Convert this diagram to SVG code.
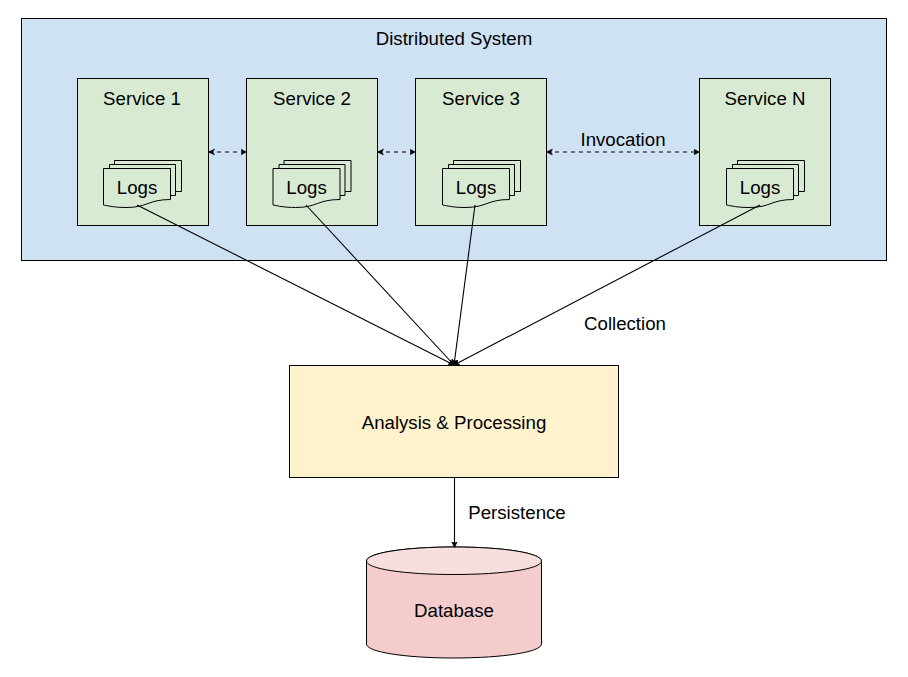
<svg xmlns="http://www.w3.org/2000/svg" width="908" height="677" viewBox="0 0 908 677">
<style>
text{font-family:"Liberation Sans",Arial,sans-serif;font-size:18.67px;fill:#000;text-anchor:middle}
.b{stroke:#000;stroke-width:1}
.svc{fill:#d9ead3}
.c{fill:none;stroke:#000;stroke-width:1.100}
.d{stroke-dasharray:4 4}
</style>
<defs>
<marker id="a" markerWidth="7" markerHeight="7" refX="5.500" refY="3" orient="auto-start-reverse" markerUnits="userSpaceOnUse"><path d="M0 0L6 3L0 6L1.500 3Z" fill="#000" stroke="#000" stroke-width=".5"/></marker>
<g id="logs">
<path class="b svc" d="M114.500 160.500H181.500V191.500H114.500Z"/>
<path class="b svc" d="M109.500 164.500H175.500V195.500H109.500Z"/>
<path class="b svc" d="M103.500 168.500H170.500V199.500C148 199.500 148 207.500 126 207.500C115 207.500 109 206 103.500 205Z"/>
<text x="137" y="194">Logs</text>
</g>
</defs>
<rect width="908" height="677" fill="#fff"/>
<g id="system"><rect class="b" x="21.500" y="18.500" width="865" height="242" fill="#cfe2f3"/><text x="454" y="45">Distributed System</text></g>
<g id="service1"><rect class="b svc" x="77.500" y="78.500" width="131" height="147"/><text x="142" y="105">Service 1</text><use href="#logs"/></g>
<g id="service2"><rect class="b svc" x="246.500" y="78.500" width="131" height="147"/><text x="312" y="105">Service 2</text><use href="#logs" x="169.500"/></g>
<g id="service3"><rect class="b svc" x="415.500" y="78.500" width="131" height="147"/><text x="481" y="105">Service 3</text><use href="#logs" x="339"/></g>
<g id="serviceN"><rect class="b svc" x="699.500" y="78.500" width="131" height="147"/><text x="765" y="105">Service N</text><use href="#logs" x="623"/></g>
<g id="analysis"><rect class="b" x="289.500" y="365.500" width="329" height="112" fill="#fff2cc"/><text x="454" y="429">Analysis &amp; Processing</text></g>
<g id="database"><path class="b" d="M366.500 561C366.500 553 405 547 454 547S541.500 553 541.500 561V644C541.500 652 503 658 454 658S366.500 652 366.500 644Z" fill="#f4cccc"/><path class="b" d="M366.500 561C366.500 569 405 574.500 454 574.500S541.500 569 541.500 561C541.500 553 503 547 454 547S366.500 553 366.500 561Z" fill="#f8dfdf"/><text x="454" y="617">Database</text></g>
<g id="connectors">
<path class="c d" marker-start="url(#a)" marker-end="url(#a)" d="M209 152H246"/>
<path class="c d" marker-start="url(#a)" marker-end="url(#a)" d="M378 152H415"/>
<path class="c d" marker-start="url(#a)" marker-end="url(#a)" d="M547 152H699"/>
<path class="c" marker-end="url(#a)" d="M137 205L454 365"/>
<path class="c" marker-end="url(#a)" d="M306 205L454 365"/>
<path class="c" marker-end="url(#a)" d="M475 205L454 365"/>
<path class="c" marker-end="url(#a)" d="M760 205L454 365"/>
<path class="c" marker-end="url(#a)" d="M454.500 477V547"/>
</g>
<text x="623" y="146">Invocation</text>
<text x="625" y="330">Collection</text>
<text x="517" y="519">Persistence</text>
</svg>
